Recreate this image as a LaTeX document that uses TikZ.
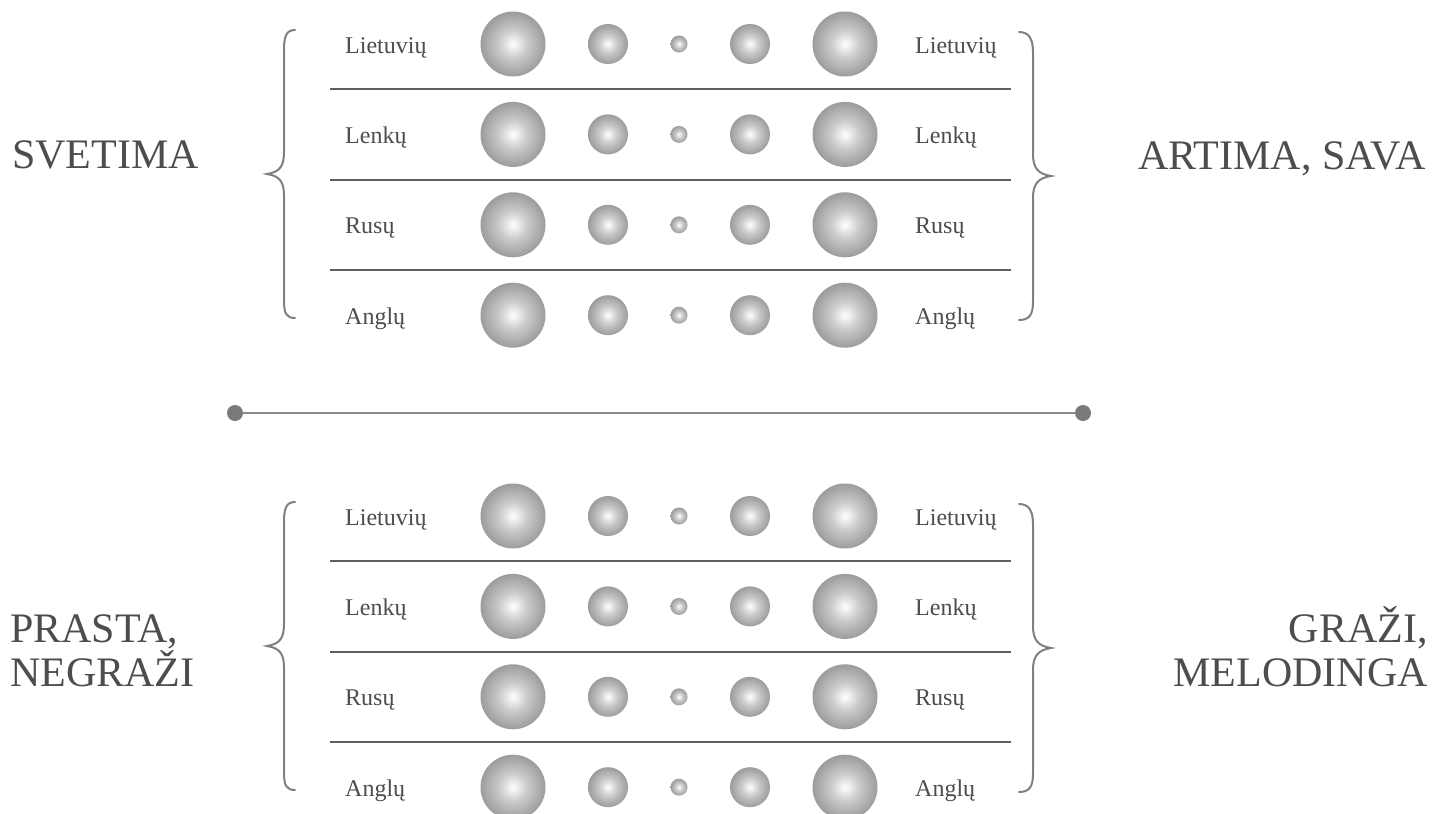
\documentclass[tikz,border=0pt]{standalone}
\usepackage{fontspec}
\setmainfont{Liberation Serif}
\definecolor{txt}{HTML}{4D4D4D}
\definecolor{sepc}{HTML}{5E5E5E}
\definecolor{bracec}{HTML}{808080}
\definecolor{midc}{HTML}{8C8C8C}
\definecolor{dotc}{HTML}{7A7A7A}
\definecolor{ballA}{HTML}{FAFAFA}
\definecolor{ballB}{HTML}{CACACA}
\definecolor{ballC}{HTML}{9C9C9C}
\pgfdeclareradialshading{myball}{\pgfpoint{0bp}{0bp}}{color(0bp)=(ballA); color(1bp)=(ballA); color(11bp)=(ballB); color(25bp)=(ballC); color(50bp)=(ballC)}
\begin{document}
\begin{tikzpicture}[x=1pt,y=-1pt,
  lab/.style={text=txt, inner sep=0pt, font=\fontsize{24}{26}\selectfont},
  big/.style={text=txt, inner sep=0pt, font=\fontsize{42}{44}\selectfont},
  ball/.style={circle, inner sep=0pt, minimum size=#1, shading=myball},
  sepline/.style={draw=sepc, line width=2pt},
  bracel/.style={draw=bracec, line width=2pt, line cap=round},
  dotn/.style={circle, fill=dotc, inner sep=0pt, minimum size=16pt},
  midline/.style={draw=midc, line width=2.5pt}]
\useasboundingbox (0,0) rectangle (1444,814);
\fill[white] (0,0) rectangle (1444,814);

\foreach \blk/\yo in {t/0, b/472} {
  \foreach \lab [count=\i] in {Lietuvių, Lenkų, Rusų, Anglų} {
    \pgfmathsetmacro\yy{44+90.4*(\i-1)+\yo}
    \node[lab, anchor=base west] (\blk L\i) at (345,\yy+9) {\lab};
    \node[lab, anchor=base west] (\blk R\i) at (915,\yy+9) {\lab};
    \node[ball=65pt] (\blk A\i) at (513,\yy) {};
    \node[ball=40pt] (\blk B\i) at (608,\yy) {};
    \node[ball=17pt] (\blk C\i) at (679,\yy) {};
    \node[ball=40pt] (\blk D\i) at (750,\yy) {};
    \node[ball=65pt] (\blk E\i) at (845,\yy) {};
  }
  \foreach \i in {1,2,3} {
    \pgfmathsetmacro\ys{44+90.4*(\i-0.5)+\yo}
    \draw[sepline] (330,\ys) -- (1011,\ys);
  }
  % left brace
  \draw[bracel] (295,30+\yo) .. controls (286,30+\yo) and (284,37+\yo) .. (284,50+\yo)
     -- (284,152+\yo) .. controls (284,166+\yo) and (280,172+\yo) .. (267,174+\yo)
     .. controls (280,176+\yo) and (284,182+\yo) .. (284,196+\yo)
     -- (284,300+\yo) .. controls (284,313+\yo) and (286,318+\yo) .. (295,318+\yo);
  % right brace
  \draw[bracel] (1019,32+\yo) .. controls (1029,32+\yo) and (1033,39+\yo) .. (1033,52+\yo)
     -- (1033,154+\yo) .. controls (1033,168+\yo) and (1038,174+\yo) .. (1051,176+\yo)
     .. controls (1038,178+\yo) and (1033,184+\yo) .. (1033,198+\yo)
     -- (1033,302+\yo) .. controls (1033,315+\yo) and (1029,320+\yo) .. (1019,320+\yo);
}

\node[big, anchor=base west] (sv) at (12,168) {SVETIMA};
\node[big, anchor=base east] (ar) at (1426,169) {ARTIMA, SAVA};
\node[big, anchor=base west, align=left] (pr) at (10,686) {PRASTA,\\NEGRAŽI};
\node[big, anchor=base east, align=right] (gr) at (1428,686) {GRAŽI,\\MELODINGA};

\node[dotn] (d1) at (235,413) {};
\node[dotn] (d2) at (1083,413) {};
\draw[midline] (d1) -- (d2);
\end{tikzpicture}
\end{document}
